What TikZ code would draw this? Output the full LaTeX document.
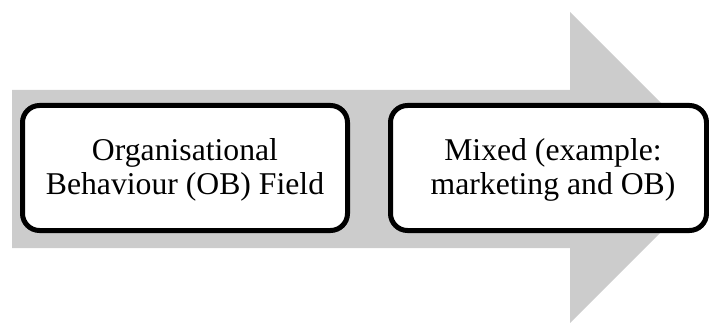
\documentclass[tikz,border=0pt]{standalone}
\usepackage{fontspec}
\setmainfont{Liberation Serif}
\definecolor{arrowgray}{RGB}{204,204,204}
\begin{document}
\begin{tikzpicture}[x=1pt,y=-1pt,
  stagebox/.style={draw=black, line width=5pt, rounded corners=17pt, fill=white},
  stagetext/.style={align=center, font=\fontsize{31.7}{34}\selectfont, inner sep=0pt}]
\useasboundingbox (0,0) rectangle (709,323);
\clip (0,0) rectangle (709,323);
\fill[arrowgray] (12,90) -- (570,90) -- (570,12) -- (725.5,167.5) -- (570,323) -- (570,248) -- (12,248) -- cycle;
\draw[stagebox] (22.5,105.5) rectangle (347.5,230.5);
\draw[stagebox] (390.5,105.5) rectangle (706.5,230.5);
\node[stagetext] (a) at (185,170) {Organisational\\Behaviour (OB) Field};
\node[stagetext] (b) at (553,170) {Mixed (example:\\marketing and OB)};
\end{tikzpicture}
\end{document}
